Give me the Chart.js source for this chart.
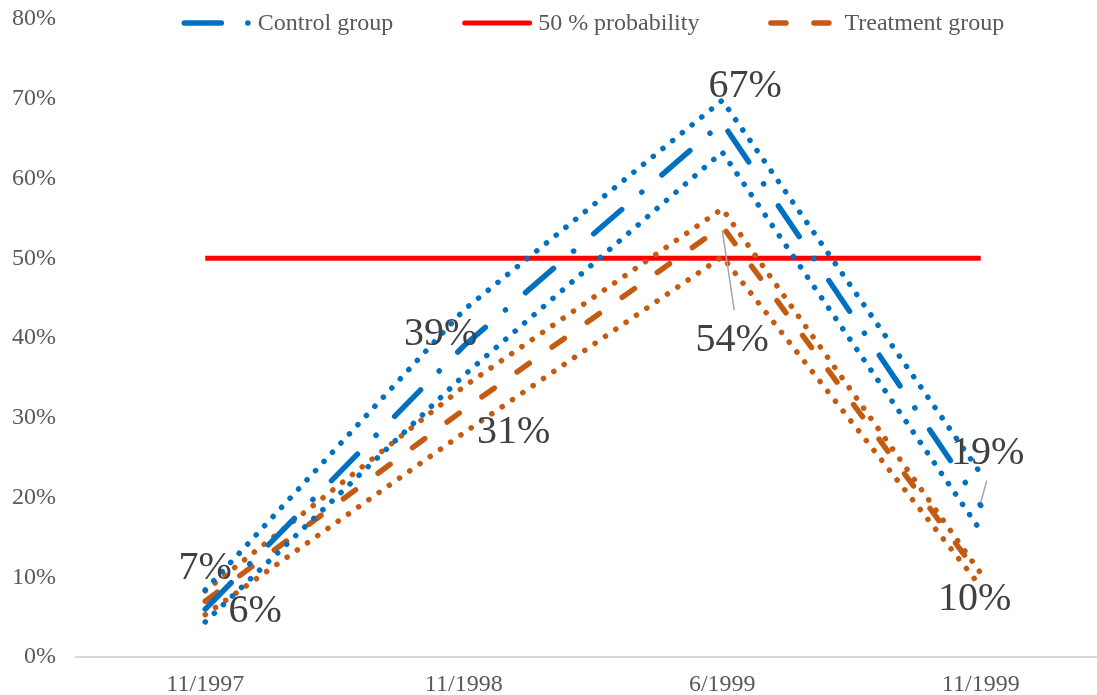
<!DOCTYPE html>
<html>
<head>
<meta charset="utf-8">
<script src="https://cdn.jsdelivr.net/npm/chart.js@4.4.1/dist/chart.umd.min.js"></script>
<style>
    html, body { margin: 0; padding: 0; background: #ffffff; overflow: hidden; }
    #wrap { width: 1110px; height: 695px; }
</style>
</head>
<body>
<div id="wrap"><canvas id="chart" width="1110" height="695"></canvas></div>
<script>
// Values (percent)
const categories = ['11/1997', '11/1998', '6/1999', '11/1999'];
const controlGroup = [6, 39, 67, 19];
const controlUpper = [8.4, 43.5, 69.8, 23];
const controlLower = [4.4, 35.3, 63.3, 15.8];
const treatmentGroup = [7, 31, 54, 10];
const treatmentUpper = [8.3, 33.9, 56.2, 10.5];
const treatmentLower = [5.3, 28.1, 50.2, 8.8];
const probabilityLine = [50, 50, 50, 50];

const BLUE = '#0070c0';
const ORANGE = '#c55a11';
const RED = '#ff0000';
const SERIF = "'Liberation Serif', 'Times New Roman', serif";

// where each data label sits relative to its point, [dx, dy] in px
const controlLabelOffsets = [[50, 2], [-23, -11], [23, -36], [7, -52]];
const treatmentLabelOffsets = [[0, -33], [50, 23], [10, 114], [-6, 22]];
// leader lines: [index, [fromDx, fromDy], [toDx, toDy]]
const controlLeaders = [[3, [6, -25], [0, -3]]];
const treatmentLeaders = [[2, [12, 84], [0, 4]]];

const dotted = [0.1, 12.4];

function band(data, color) {
    return {
        data: data,
        borderColor: color,
        borderWidth: 5.5,
        borderDash: dotted,
        borderCapStyle: 'round',
        pointRadius: 0,
        fill: false,
        tension: 0
    };
}

const datasets = [
    {
        label: 'Control group',
        data: controlGroup,
        borderColor: BLUE,
        borderWidth: 5.5,
        borderDash: [37, 26.5, 0.1, 26.5],
        borderCapStyle: 'round',
        pointRadius: 0,
        tension: 0,
        labelOffsets: controlLabelOffsets,
        leaders: controlLeaders
    },
    band(controlUpper, BLUE),
    band(controlLower, BLUE),
    {
        label: 'Treatment group',
        data: treatmentGroup,
        borderColor: ORANGE,
        borderWidth: 5.5,
        borderDash: [15, 28],
        borderCapStyle: 'round',
        pointRadius: 0,
        tension: 0,
        labelOffsets: treatmentLabelOffsets,
        leaders: treatmentLeaders
    },
    band(treatmentUpper, ORANGE),
    band(treatmentLower, ORANGE),
    {
        label: '50 % probability',
        data: probabilityLine,
        borderColor: RED,
        borderWidth: 5,
        borderCapStyle: 'butt',
        pointRadius: 0,
        tension: 0
    }
];

// legend order as in the picture
const legendOrder = [0, 6, 3];

const pointLabels = {
    id: 'pointLabels',
    afterDatasetsDraw(chart) {
        const ctx = chart.ctx;
        ctx.save();
        chart.data.datasets.forEach((ds, i) => {
            if (!ds.labelOffsets) return;
            const meta = chart.getDatasetMeta(i);
            // leader lines first
            (ds.leaders || []).forEach(([j, from, to]) => {
                const pt = meta.data[j];
                ctx.beginPath();
                ctx.strokeStyle = '#a6a6a6';
                ctx.lineWidth = 1.5;
                ctx.setLineDash([]);
                ctx.moveTo(pt.x + from[0], pt.y + from[1]);
                ctx.lineTo(pt.x + to[0], pt.y + to[1]);
                ctx.stroke();
            });
            ctx.font = '40px ' + SERIF;
            ctx.fillStyle = '#404040';
            ctx.textAlign = 'center';
            ctx.textBaseline = 'middle';
            meta.data.forEach((pt, j) => {
                const off = ds.labelOffsets[j];
                ctx.fillText(Math.round(ds.data[j]) + '%', pt.x + off[0], pt.y + off[1]);
            });
        });
        ctx.restore();
    }
};

const lineLegend = {
    id: 'lineLegend',
    afterDraw(chart) {
        const ctx = chart.ctx;
        const area = chart.chartArea;
        const sample = 70, gap = 6, itemGap = 69;
        ctx.save();
        ctx.font = '24px ' + SERIF;
        const widths = legendOrder.map(i => ctx.measureText(chart.data.datasets[i].label).width);
        const total = widths.reduce((s, w) => s + sample + gap + w, 0) + itemGap * (legendOrder.length - 1);
        let x = (area.left + area.right) / 2 - total / 2;
        const y = 23;
        legendOrder.forEach((i, k) => {
            const ds = chart.data.datasets[i];
            ctx.beginPath();
            ctx.strokeStyle = ds.borderColor;
            ctx.lineWidth = ds.borderWidth;
            ctx.lineCap = 'round';
            ctx.setLineDash(ds.borderDash || []);
            ctx.moveTo(x + 2.5, y);
            ctx.lineTo(x + sample - 2.5, y);
            ctx.stroke();
            ctx.setLineDash([]);
            ctx.fillStyle = '#595959';
            ctx.textAlign = 'left';
            ctx.textBaseline = 'middle';
            ctx.fillText(ds.label, x + sample + gap, y + 1);
            x += sample + gap + widths[k] + itemGap;
        });
        ctx.restore();
    }
};

new Chart(document.getElementById('chart').getContext('2d'), {
    type: 'line',
    data: { labels: categories, datasets: datasets },
    options: {
        responsive: false,
        animation: false,
        devicePixelRatio: 1,
        layout: { padding: { top: 19, right: 0, bottom: 0, left: 0 } },
        plugins: {
            legend: { display: false },
            tooltip: { enabled: false }
        },
        scales: {
            x: {
                offset: true,
                grid: { display: false, drawTicks: false },
                border: { display: true, color: '#d9d9d9', width: 2 },
                ticks: {
                    color: '#595959',
                    font: { family: SERIF, size: 24 },
                    padding: 13,
                    maxRotation: 0
                },
                afterFit(scale) {
                    scale.height = 38;
                    scale.paddingLeft = 0;
                    scale.paddingRight = 0;
                }
            },
            y: {
                min: 0,
                max: 80,
                grid: { display: false, drawTicks: false },
                border: { display: false },
                ticks: {
                    stepSize: 10,
                    color: '#595959',
                    font: { family: SERIF, size: 24 },
                    padding: 20,
                    callback: v => v + '%'
                },
                afterFit(scale) {
                    scale.width = 76;
                    scale.paddingTop = 0;
                    scale.paddingBottom = 0;
                }
            }
        }
    },
    plugins: [pointLabels, lineLegend]
});
</script>
</body>
</html>
